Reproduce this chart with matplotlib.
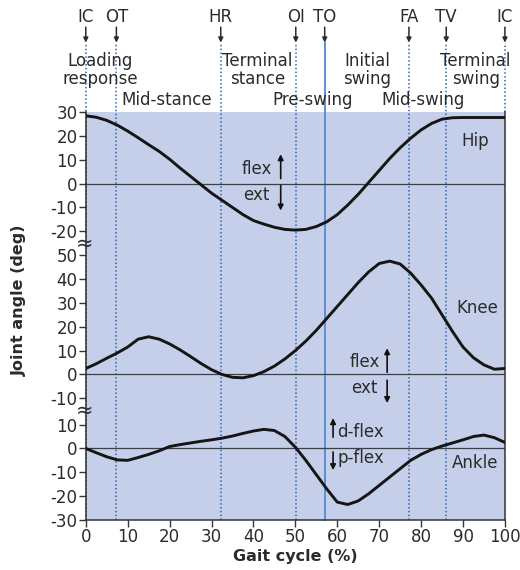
import numpy as np
import matplotlib
matplotlib.use("Agg")
import matplotlib.pyplot as plt
import matplotlib.transforms as mtransforms

plt.rcParams["font.family"] = ["DejaVu Sans"]
plt.rcParams["axes.unicode_minus"] = False

# ── Data ─────────────────────────────────────────────────────────────────────
gait = np.arange(0, 100.1, 2.5)

hip = [28.4, 27.8, 26.5, 24.5, 22.0, 19.2, 16.3, 13.5, 10.2, 6.5, 3.0,
       -0.5, -4.0, -7.0, -10.0, -13.0, -15.5, -17.0, -18.3, -19.2, -19.5,
       -19.2, -18.0, -16.0, -13.0, -9.0, -4.5, 0.5, 5.5, 10.5, 15.0,
       19.0, 22.5, 25.2, 27.0, 27.6, 27.7, 27.7, 27.7, 27.7, 27.7]

knee = [2.5, 4.5, 6.8, 9.0, 11.5, 14.8, 15.8, 14.8, 12.8, 10.3, 7.5,
        4.6, 2.0, 0.0, -1.2, -1.4, -0.5, 1.2, 3.5, 6.5, 10.0,
        14.0, 18.5, 23.5, 28.5, 33.5, 38.5, 43.0, 46.5, 47.5, 46.3,
        42.5, 37.5, 32.0, 25.0, 18.0, 11.5, 7.0, 4.0, 2.2, 2.5]

ankle = [0.0, -1.8, -3.5, -4.8, -5.0, -3.8, -2.5, -1.0, 0.8, 1.6, 2.3,
         3.0, 3.6, 4.3, 5.2, 6.3, 7.3, 8.0, 7.5, 5.0, 0.5,
         -5.0, -11.0, -17.0, -22.5, -23.5, -22.0, -19.0, -15.5, -12.0, -8.5,
         -5.0, -2.5, -0.5, 1.0, 2.3, 3.6, 5.0, 5.6, 4.5, 2.5]

events = ["IC", "OT", "HR", "OI", "TO", "FA", "TV", "IC"]
event_pos = [0, 7.3, 32.2, 50.1, 57.0, 77.1, 86.0, 100]

phases = ["Loading\nresponse", "Mid-stance", "Terminal\nstance", "Pre-swing",
          "Initial\nswing", "Mid-swing", "Terminal\nswing"]
phase_pos = [3.5, 19.3, 41.0, 54.2, 67.2, 80.5, 93.0]

hip_ticks = [30, 20, 10, 0, -10, -20]
knee_ticks = [50, 40, 30, 20, 10, 0, -10]
ankle_ticks = [10, 0, -10, -20, -30]

# vertical offsets that stack the three joints on one axis
HIP_OFF, KNEE_OFF, ANKLE_OFF = 111, 31, 0

BG = "#c5cfe9"
DOT = "#2f66b3"
CURVE = "#151515"
TXT = "#2b2b2b"
FS = 12

fig = plt.figure(figsize=(5.2, 5.7), dpi=100)
ax = fig.add_axes([0.165, 0.0877, 0.806, 0.7158])
ax.set_facecolor(BG)
ax.set_xlim(0, 100)
ax.set_ylim(-30, 141)

# zero lines
for off in (HIP_OFF, KNEE_OFF, ANKLE_OFF):
    ax.axhline(off, color="#3a3f4a", lw=0.9, zorder=2)

# event lines (extend above the axes)
trans = mtransforms.blended_transform_factory(ax.transData, ax.transAxes)
for name, x in zip(events, event_pos):
    if name == "TO":
        ax.plot([x, x], [0, 1.168], transform=trans, clip_on=False,
                color="#5b8fd0", lw=1.4, zorder=1)
    else:
        y0 = 1.0 if x == 100 else 0.0
        ax.plot([x, x], [y0, 1.168], transform=trans, clip_on=False,
                color=DOT, lw=1.1, ls=(0, (1, 1.5)), zorder=1)
    ax.annotate("", xy=(x, 1.170), xytext=(x, 1.208), xycoords=trans,
                textcoords=trans,
                arrowprops=dict(arrowstyle="-|>", color=TXT, lw=1.1,
                                mutation_scale=7, shrinkA=0, shrinkB=0))
    ax.text(x, 1.232, name, transform=trans, ha="center", va="center",
            fontsize=FS, color=TXT)

for name, x in zip(phases, phase_pos):
    y = 1.103 if "\n" in name else 1.029
    ax.text(x, y, name, transform=trans, ha="center", va="center",
            fontsize=FS, color=TXT, linespacing=0.95)

# curves
ax.plot(gait, np.array(hip) + HIP_OFF, color=CURVE, lw=2.1, zorder=4)
ax.plot(gait, np.array(knee) + KNEE_OFF, color=CURVE, lw=2.1, zorder=4)
ax.plot(gait, np.array(ankle) + ANKLE_OFF, color=CURVE, lw=2.1, zorder=4)

# joint names
ax.text(92.8, 129, "Hip", ha="center", va="center", fontsize=FS, color=TXT)
ax.text(93.3, 58.7, "Knee", ha="center", va="center", fontsize=FS, color=TXT)
ax.text(92.8, -6.2, "Ankle", ha="center", va="center", fontsize=FS, color=TXT)

arrow_kw = dict(arrowstyle="-|>", color="#111", lw=1.2, mutation_scale=8,
                shrinkA=0, shrinkB=0)

def flex_marks(xt, xa, y_up, y_dn, t_up, t_dn, lab_up, lab_dn, ha="center"):
    ax.annotate("", xy=(xa, y_up[1]), xytext=(xa, y_up[0]), arrowprops=arrow_kw)
    ax.annotate("", xy=(xa, y_dn[1]), xytext=(xa, y_dn[0]), arrowprops=arrow_kw)
    ax.text(xt, t_up, lab_up, ha=ha, va="center", fontsize=FS, color=TXT)
    ax.text(xt, t_dn, lab_dn, ha=ha, va="center", fontsize=FS, color=TXT)

flex_marks(40.8, 46.5, (113.1, 123.3), (110.2, 99.7), 117.3, 106.4, "flex", "ext")
flex_marks(66.5, 71.9, (31.9, 42.0), (28.6, 19.0), 36.1, 25.2, "flex", "ext")
flex_marks(60.0, 59.0, (4.7, 12.7), (-1.5, -9.1), 6.8, -4.0, "d-flex", "p-flex",
           ha="left")

# y ticks for the three stacked panels
yt = ([v + HIP_OFF for v in hip_ticks] + [v + KNEE_OFF for v in knee_ticks]
      + [v + ANKLE_OFF for v in ankle_ticks])
yl = [str(v) for v in hip_ticks + knee_ticks + ankle_ticks]
ax.set_yticks(yt)
ax.set_yticklabels(yl)
ax.set_xticks(range(0, 101, 10))
ax.tick_params(direction="out", length=5, width=1, colors="#333",
               labelsize=FS, labelcolor=TXT, pad=1)

# axis breaks
for yb in (85.8, 16.0):
    ax.text(-0.3, yb, "≈", ha="center", va="center", fontsize=15,
            color="#333", zorder=6, clip_on=False)

for s in ("left", "bottom", "right"):
    ax.spines[s].set_color("#333")
    ax.spines[s].set_linewidth(1.1)
ax.spines["top"].set_visible(False)

fig.text(295 / 520, 1 - 557 / 570, "Gait cycle (%)", ha="center", va="center",
         fontsize=11.5, fontweight="bold", color=TXT)
fig.text(19 / 520, 1 - 300 / 570, "Joint angle (deg)", ha="center", va="center",
         rotation=90, fontsize=11.5, fontweight="bold", color=TXT)

fig.savefig("out.png", dpi=100, facecolor="white")
